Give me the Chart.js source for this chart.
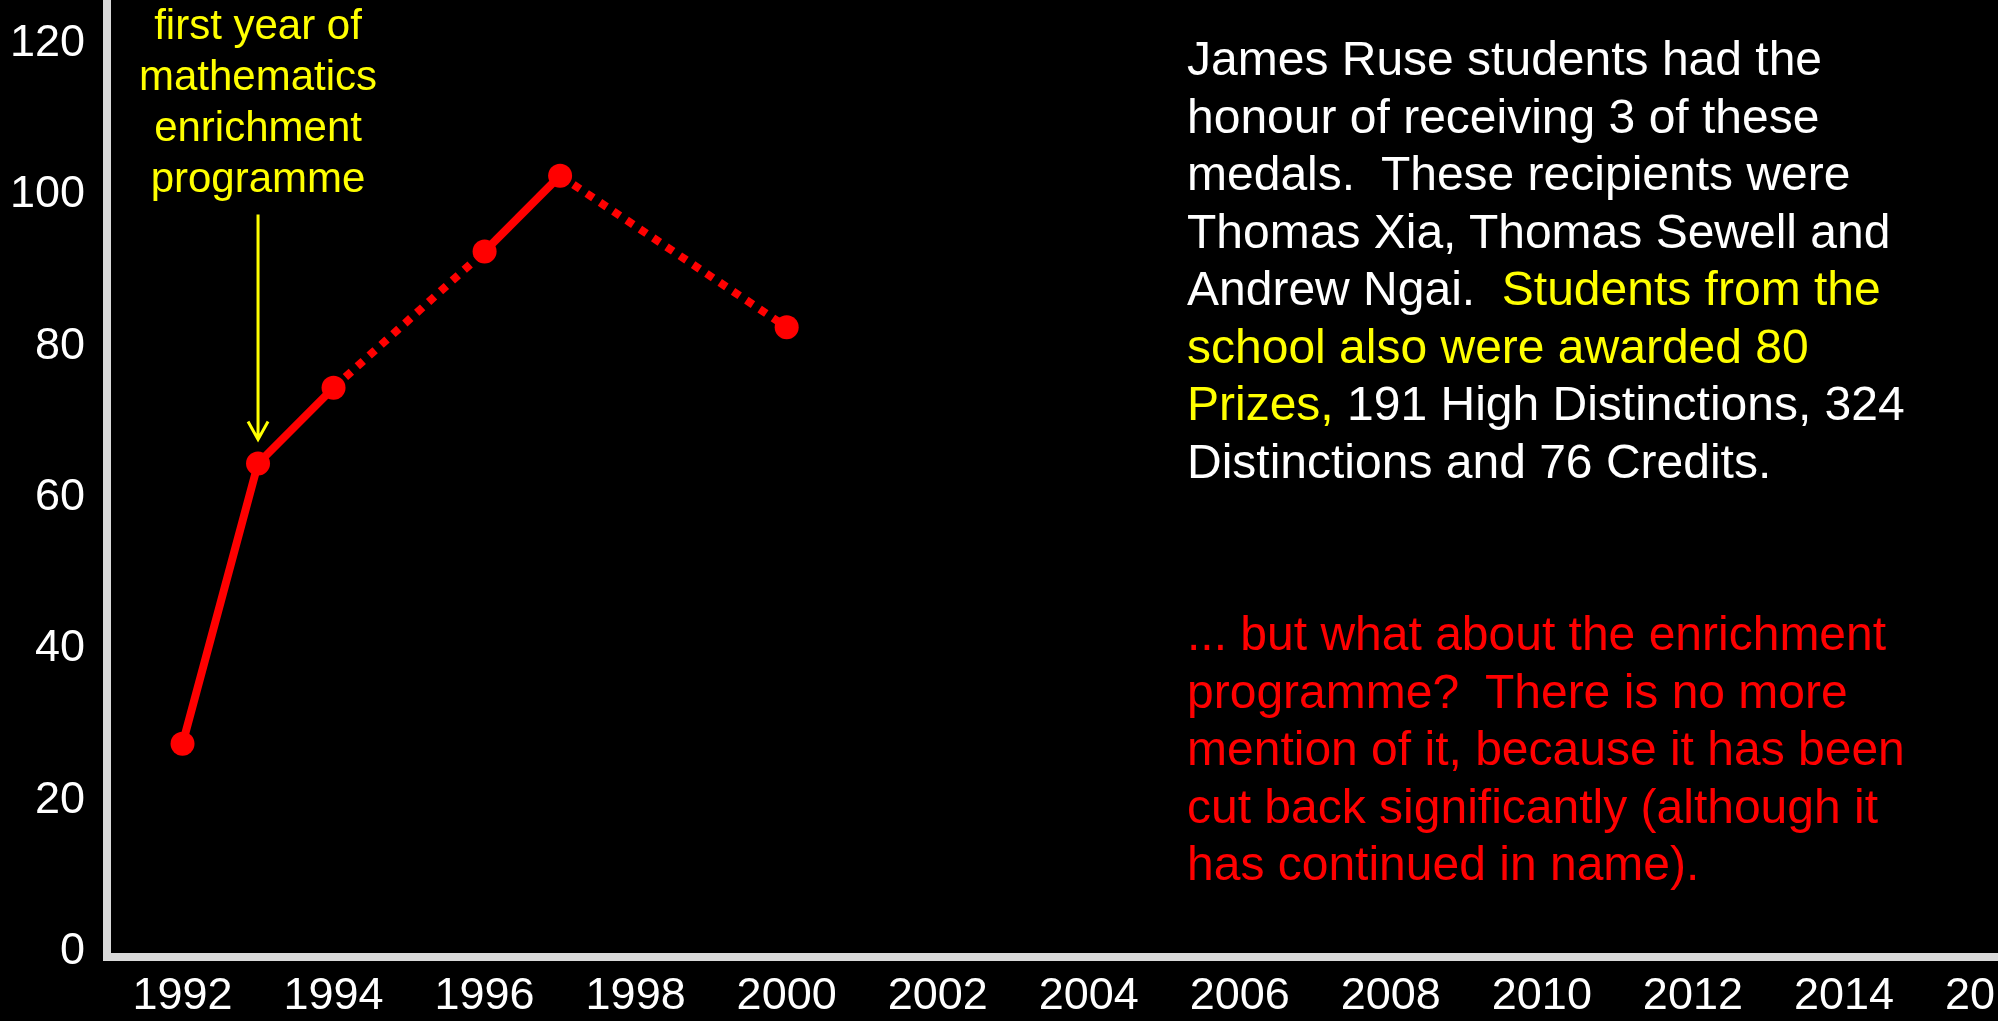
<!DOCTYPE html>
<html>
<head>
<meta charset="utf-8">
<script src="https://cdn.jsdelivr.net/npm/chart.js@4.4.1/dist/chart.umd.min.js"></script>
<style>
    html, body { margin: 0; padding: 0; background: #000; overflow: hidden; }
    #wrap { position: relative; width: 1998px; height: 1021px; }
    #notes {
        position: absolute; left: 1187px; top: 30px;
        font-family: "Liberation Sans", Arial, sans-serif;
        font-size: 48px; line-height: 57.5px; color: #fff; white-space: nowrap;
    }
    .yel { color: #ffff00; }
    .red { color: #ff0000; }
</style>
</head>
<body>
<div id="wrap">
    <canvas id="chart" width="1998" height="1021"></canvas>
    <div id="notes">
        James Ruse students had the<br>
        honour of receiving 3 of these<br>
        medals.&nbsp; These recipients were<br>
        Thomas Xia, Thomas Sewell and<br>
        Andrew Ngai.&nbsp; <span class="yel">Students from the</span><br>
        <span class="yel">school also were awarded 80</span><br>
        <span class="yel">Prizes,</span> 191 High Distinctions, 324<br>
        Distinctions and 76 Credits.<br>
        <br>
        <br>
        <span class="red">... but what about the enrichment<br>
        programme?&nbsp; There is no more<br>
        mention of it, because it has been<br>
        cut back significantly (although it<br>
        has continued in name).</span>
    </div>
</div>
<script>
// values
const years = [1992, 1993, 1994, 1996, 1997, 2000];
const medals = [27.5, 64.5, 74.5, 92.5, 102.5, 82.5];
const noteYear = 1993;
const noteLines = ['first year of', 'mathematics', 'enrichment', 'programme'];

const FONT = '"Liberation Sans", Arial, sans-serif';

// yellow note + arrow pointing at the 1993 point
const notePlugin = {
    id: 'note',
    afterDatasetsDraw(chart) {
        const ctx = chart.ctx;
        const x = chart.scales.x.getPixelForValue(noteYear);
        const py = chart.scales.y.getPixelForValue(medals[years.indexOf(noteYear)]);
        const tip = py - 24;
        const top = tip - 225;
        ctx.save();
        ctx.strokeStyle = '#ffff00';
        ctx.lineWidth = 3;
        ctx.beginPath();
        ctx.moveTo(x, top);
        ctx.lineTo(x, tip);
        ctx.moveTo(x - 10, tip - 18);
        ctx.lineTo(x, tip);
        ctx.lineTo(x + 10, tip - 18);
        ctx.stroke();
        ctx.fillStyle = '#ffff00';
        ctx.font = '42px ' + FONT;
        ctx.textAlign = 'center';
        ctx.textBaseline = 'alphabetic';
        const offs = [175, 124, 73, 22];
        noteLines.forEach((t, i) => ctx.fillText(t, x, top - offs[i]));
        ctx.restore();
    }
};

new Chart(document.getElementById('chart'), {
    type: 'line',
    data: {
        datasets: [{
            data: years.map((y, i) => ({ x: y, y: medals[i] })),
            borderColor: '#ff0000',
            backgroundColor: '#ff0000',
            borderWidth: 8,
            borderCapStyle: 'butt',
            pointRadius: 12,
            pointBorderWidth: 0,
            pointBackgroundColor: '#ff0000',
            tension: 0,
            clip: false,
            segment: {
                // dotted where years are missing
                borderDash: ctx => (ctx.p1.parsed.x - ctx.p0.parsed.x > 1 ? [8, 8] : undefined)
            }
        }]
    },
    options: {
        responsive: false,
        devicePixelRatio: 1,
        animation: false,
        layout: { padding: 0, autoPadding: false },
        plugins: { legend: { display: false }, tooltip: { enabled: false } },
        scales: {
            x: {
                type: 'linear',
                min: 1991,
                max: 2016.04,
                grid: { display: false, drawTicks: false },
                border: { display: true, color: '#d9d9d9', width: 8 },
                ticks: {
                    stepSize: 2,
                    includeBounds: false,
                    autoSkip: false,
                    maxRotation: 0,
                    padding: 13,
                    color: '#ffffff',
                    font: { family: FONT, size: 45 },
                    callback: v => String(v)
                },
                afterFit(s) {
                    s.height = 64.5;
                    s.paddingLeft = 0;
                    s.paddingRight = 0;
                }
            },
            y: {
                min: -0.6,
                max: 125.7,
                grid: { display: false, drawTicks: false },
                border: { display: true, color: '#d9d9d9', width: 8 },
                ticks: {
                    stepSize: 20,
                    includeBounds: false,
                    padding: 22,
                    color: '#ffffff',
                    font: { family: FONT, size: 45 }
                },
                afterFit(s) {
                    s.width = 107;
                    s.paddingTop = 0;
                    s.paddingBottom = 0;
                }
            }
        }
    },
    plugins: [notePlugin]
});
</script>
</body>
</html>
